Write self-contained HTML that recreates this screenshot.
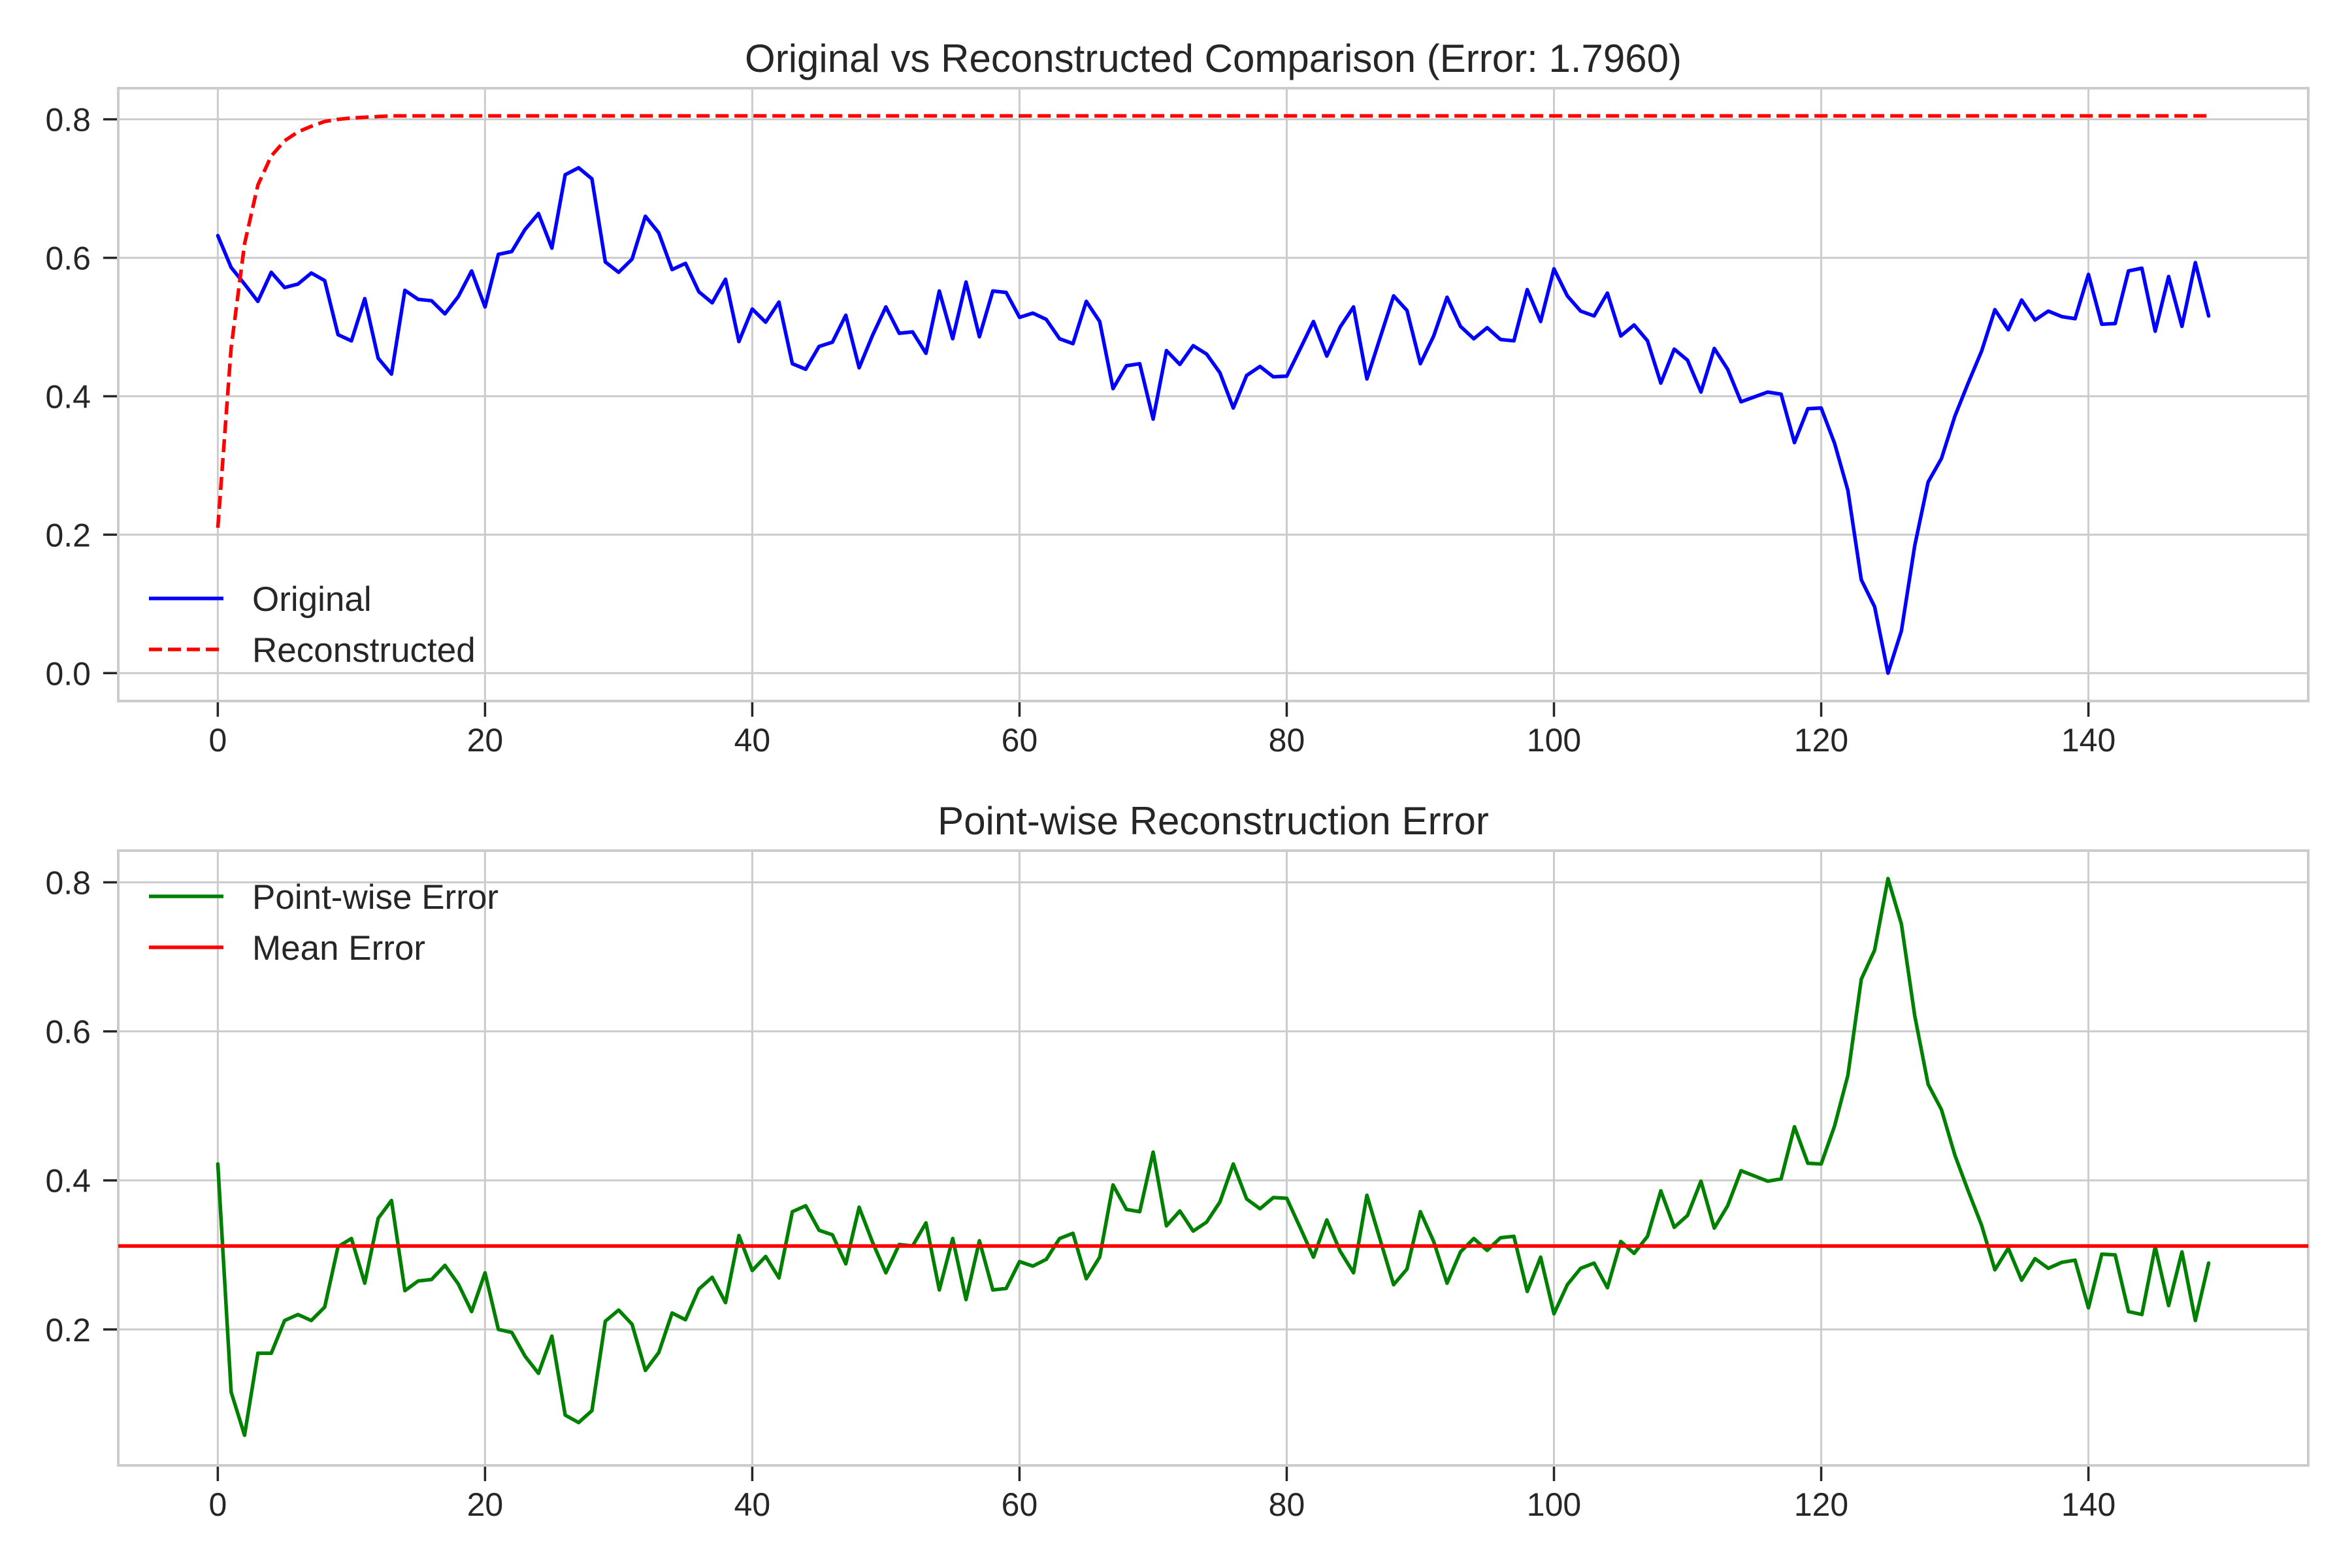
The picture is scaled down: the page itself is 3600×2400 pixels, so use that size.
<!DOCTYPE html>
<html><head><meta charset="utf-8"><style>
html,body{margin:0;padding:0;background:#fff}
svg{display:block;font-family:"Liberation Sans",Arial,sans-serif}
</style></head><body>
<svg id="fig" width="3600" height="2400" viewBox="0 0 3600 2400" xmlns="http://www.w3.org/2000/svg">
<rect width="3600" height="2400" fill="#fff"/>
</svg>
<script>
const xTicks=[0,20,40,60,80,100,120,140];
const topYTicks=[0.0,0.2,0.4,0.6,0.8];
const topYTickLabels=["0.0","0.2","0.4","0.6","0.8"];
const botYTicks=[0.2,0.4,0.6,0.8];
const botYTickLabels=["0.2","0.4","0.6","0.8"];
const original=[0.632,0.586,0.562,0.537,0.579,0.557,0.562,0.578,0.567,0.489,0.480,0.541,0.455,0.432,0.553,0.540,0.538,0.519,0.544,0.581,
0.529,0.605,0.609,0.641,0.664,0.614,0.720,0.730,0.714,0.594,0.579,0.598,0.660,0.636,0.583,0.592,0.551,0.535,0.569,0.479,
0.526,0.507,0.536,0.447,0.439,0.472,0.478,0.517,0.441,0.488,0.529,0.491,0.493,0.462,0.552,0.483,0.565,0.486,0.552,0.550,
0.514,0.520,0.511,0.483,0.476,0.537,0.508,0.411,0.444,0.447,0.367,0.466,0.446,0.473,0.461,0.434,0.383,0.430,0.443,0.428,
0.429,0.468,0.508,0.458,0.500,0.529,0.425,0.485,0.545,0.524,0.447,0.487,0.543,0.501,0.483,0.499,0.482,0.480,0.554,0.508,
0.584,0.545,0.523,0.516,0.549,0.487,0.503,0.480,0.419,0.468,0.452,0.406,0.469,0.439,0.392,0.399,0.406,0.403,0.333,0.382,
0.383,0.332,0.264,0.135,0.096,0.000,0.061,0.184,0.276,0.310,0.371,0.419,0.465,0.525,0.496,0.539,0.510,0.523,0.515,0.512,
0.576,0.504,0.505,0.581,0.585,0.494,0.573,0.501,0.593,0.516];
const reconstructed=[0.210,0.470,0.620,0.705,0.747,0.769,0.782,0.790,0.797,0.800,0.802,0.803,0.804,0.805,0.805,0.805,0.805,0.805,0.805,0.805,
0.805,0.805,0.805,0.805,0.805,0.805,0.805,0.805,0.805,0.805,0.805,0.805,0.805,0.805,0.805,0.805,0.805,0.805,0.805,0.805,
0.805,0.805,0.805,0.805,0.805,0.805,0.805,0.805,0.805,0.805,0.805,0.805,0.805,0.805,0.805,0.805,0.805,0.805,0.805,0.805,
0.805,0.805,0.805,0.805,0.805,0.805,0.805,0.805,0.805,0.805,0.805,0.805,0.805,0.805,0.805,0.805,0.805,0.805,0.805,0.805,
0.805,0.805,0.805,0.805,0.805,0.805,0.805,0.805,0.805,0.805,0.805,0.805,0.805,0.805,0.805,0.805,0.805,0.805,0.805,0.805,
0.805,0.805,0.805,0.805,0.805,0.805,0.805,0.805,0.805,0.805,0.805,0.805,0.805,0.805,0.805,0.805,0.805,0.805,0.805,0.805,
0.805,0.805,0.805,0.805,0.805,0.805,0.805,0.805,0.805,0.805,0.805,0.805,0.805,0.805,0.805,0.805,0.805,0.805,0.805,0.805,
0.805,0.805,0.805,0.805,0.805,0.805,0.805,0.805,0.805,0.805];
const pointError=[0.422,0.116,0.058,0.168,0.168,0.212,0.220,0.212,0.230,0.311,0.322,0.262,0.349,0.373,0.252,0.265,0.267,0.286,0.261,0.224,
0.276,0.200,0.196,0.164,0.141,0.191,0.085,0.075,0.091,0.211,0.226,0.207,0.145,0.169,0.222,0.213,0.254,0.270,0.236,0.326,
0.279,0.298,0.269,0.358,0.366,0.333,0.327,0.288,0.364,0.317,0.276,0.314,0.312,0.343,0.253,0.322,0.240,0.319,0.253,0.255,
0.291,0.285,0.294,0.322,0.329,0.268,0.297,0.394,0.361,0.358,0.438,0.339,0.359,0.332,0.344,0.371,0.422,0.375,0.362,0.377,
0.376,0.337,0.297,0.347,0.305,0.276,0.380,0.320,0.260,0.281,0.358,0.318,0.262,0.304,0.322,0.306,0.323,0.325,0.251,0.297,
0.221,0.260,0.282,0.289,0.256,0.318,0.302,0.325,0.386,0.337,0.353,0.399,0.336,0.366,0.413,0.406,0.399,0.402,0.472,0.423,
0.422,0.473,0.541,0.670,0.709,0.805,0.744,0.621,0.529,0.495,0.434,0.386,0.340,0.280,0.309,0.266,0.295,0.282,0.290,0.293,
0.229,0.301,0.300,0.224,0.220,0.311,0.232,0.304,0.212,0.289];
const meanError=[0.312];

const NS="http://www.w3.org/2000/svg";
const fig=document.getElementById('fig');
function mk(tag,attrs,parent){const e=document.createElementNS(NS,tag);for(const k in attrs)e.setAttribute(k,attrs[k]);(parent||fig).appendChild(e);return e;}
const L=181,R=3533,xmin=-7.45,xmax=156.45;
const xs=v=>L+(v-xmin)/(xmax-xmin)*(R-L);

function axes(top,bottom,ymin,ymax,yt,ytl,title,name){
  const ys=v=>bottom-(v-ymin)/(ymax-ymin)*(bottom-top);
  const g=mk('g',{});
  
  
  xTicks.forEach(t=>{const l=mk('line',{x1:xs(t),x2:xs(t),y1:top,y2:bottom,stroke:'#cccccc','stroke-width':3},g);
    
    const tk=mk('line',{x1:xs(t),x2:xs(t),y1:bottom,y2:bottom+24,stroke:'#262626','stroke-width':3.5},g);
    
    const tx=mk('text',{x:xs(t),y:bottom+77,'text-anchor':'middle','font-size':50,fill:'#262626'},g);tx.textContent=String(t);
    });
  yt.forEach((t,i)=>{const l=mk('line',{x1:L,x2:R,y1:ys(t),y2:ys(t),stroke:'#cccccc','stroke-width':3},g);
    
    const tk=mk('line',{x1:L-23,x2:L,y1:ys(t),y2:ys(t),stroke:'#262626','stroke-width':3.5},g);
    
    const tx=mk('text',{x:139,y:ys(t)+18,'text-anchor':'end','font-size':50,fill:'#262626'},g);tx.textContent=ytl[i];
    });
  const fr=mk('rect',{x:L,y:top,width:R-L,height:bottom-top,fill:'none',stroke:'#cccccc','stroke-width':4},g);
  
  const tt=mk('text',{x:(L+R)/2,y:top-25,'text-anchor':'middle','font-size':60,fill:'#262626'},g);tt.textContent=title;
  
  return {g,ys};
}
function series(g,ys,vals,color,dash,name){
  const d=vals.map((v,i)=>(i?'L':'M')+xs(i).toFixed(1)+','+ys(v).toFixed(1)).join('');
  const p=mk('path',{d:d,fill:'none',stroke:color,'stroke-width':5.5,'stroke-linejoin':'round','stroke-linecap':dash?'butt':'round'},g);
  if(dash)p.setAttribute('stroke-dasharray',dash);
  
  
}
function legend(g,items,y0){
  items.forEach((it,i)=>{const y=y0+i*78;
    const l=mk('line',{x1:228,x2:342,y1:y,y2:y,stroke:it[1],'stroke-width':5.5},g);
    if(it[2])l.setAttribute('stroke-dasharray',it[2]);
    
    const t=mk('text',{x:386,y:y+19,'font-size':53,fill:'#262626'},g);t.textContent=it[0];
    });
}
const A=axes(135,1073,-0.0403,0.845,topYTicks,topYTickLabels,'Original vs Reconstructed Comparison (Error: 1.7960)','comparison-plot');
series(A.g,A.ys,original,'#0000ff',null,'original-line');
series(A.g,A.ys,reconstructed,'#ff0000','20 9','reconstructed-line');
legend(A.g,[['Original','#0000ff',null],['Reconstructed','#ff0000','20 9']],916);

const B=axes(1302,2243,0.0175,0.8425,botYTicks,botYTickLabels,'Point-wise Reconstruction Error','error-plot');
series(B.g,B.ys,pointError,'#008000',null,'pointwise-error-line');
const ml=mk('line',{x1:L,x2:R,y1:B.ys(meanError[0]),y2:B.ys(meanError[0]),stroke:'#ff0000','stroke-width':5.5},B.g);


legend(B.g,[['Point-wise Error','#008000',null],['Mean Error','#ff0000',null]],1372);
</script>
</body></html>
